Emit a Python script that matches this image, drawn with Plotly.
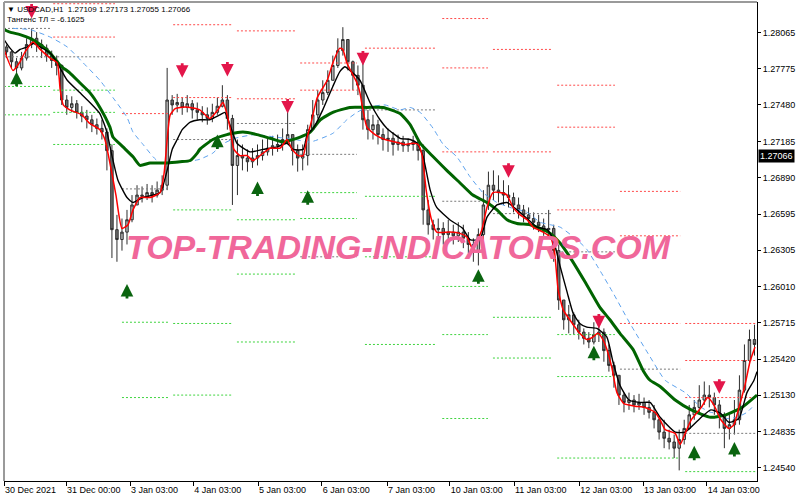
import plotly.graph_objects as go

# ---------------- data (USDCAD H1) ----------------
open_first = 1.2795
closes = [1.2791,1.2783,1.2778,1.2786,1.2797,1.2802,1.2797,1.2794,1.2788,1.2784,
          1.2780,1.2752,1.2746,1.2749,1.2742,1.2739,1.2736,1.2732,1.2729,1.2726,
          1.2711,1.2647,1.2639,1.2645,1.2655,1.2667,1.2675,1.2674,1.2677,1.2675,
          1.2679,1.2683,1.2752,1.2748,1.2750,1.2746,1.2749,1.2744,1.2742,1.2740,
          1.2737,1.2742,1.2747,1.2752,1.2737,1.2699,1.2707,1.2705,1.2702,1.2705,
          1.2707,1.2710,1.2713,1.2715,1.2716,1.2720,1.2724,1.2711,1.2705,1.2707,
          1.2728,1.2740,1.2752,1.2758,1.2768,1.2780,1.2792,1.2801,1.2783,1.2772,
          1.2764,1.2736,1.2728,1.2732,1.2724,1.2720,1.2721,1.2716,1.2718,1.2715,
          1.2716,1.2718,1.2711,1.2663,1.2651,1.2647,1.2648,1.2643,1.2645,1.2642,
          1.2645,1.2640,1.2635,1.2630,1.2643,1.2667,1.2683,1.2679,1.2677,1.2675,
          1.2673,1.2667,1.2663,1.2659,1.2656,1.2653,1.2650,1.2647,1.2648,1.2630,
          1.2590,1.2574,1.2578,1.2570,1.2564,1.2559,1.2556,1.2562,1.2564,1.2549,
          1.2537,1.2529,1.2513,1.2507,1.2509,1.2505,1.2507,1.2503,1.2499,1.2493,
          1.2483,1.2478,1.2475,1.2470,1.2477,1.2486,1.2497,1.2503,1.2509,1.2513,
          1.2511,1.2505,1.2497,1.2486,1.2489,1.2493,1.2517,1.2541,1.2558,1.2554]
highs = [1.2797,1.2792,1.2786,1.2791,1.2802,1.2810,1.2807,1.2801,1.2797,1.2792,
         1.2788,1.2781,1.2756,1.2755,1.2752,1.2747,1.2744,1.2740,1.2737,1.2736,
         1.2729,1.2716,1.2659,1.2656,1.2663,1.2675,1.2683,1.2682,1.2684,1.2683,
         1.2686,1.2691,1.2778,1.2756,1.2757,1.2754,1.2756,1.2752,1.2750,1.2747,
         1.2746,1.2749,1.2754,1.2764,1.2756,1.2740,1.2720,1.2716,1.2712,1.2713,
         1.2716,1.2720,1.2721,1.2723,1.2724,1.2729,1.2744,1.2724,1.2716,1.2716,
         1.2732,1.2752,1.2760,1.2768,1.2776,1.2788,1.2802,1.2811,1.2801,1.2784,
         1.2780,1.2782,1.2744,1.2740,1.2736,1.2729,1.2729,1.2726,1.2724,1.2723,
         1.2721,1.2723,1.2721,1.2716,1.2671,1.2655,1.2656,1.2653,1.2655,1.2651,
         1.2653,1.2651,1.2645,1.2640,1.2648,1.2679,1.2694,1.2695,1.2691,1.2687,
         1.2683,1.2677,1.2673,1.2667,1.2665,1.2661,1.2659,1.2656,1.2663,1.2651,
         1.2635,1.2590,1.2586,1.2580,1.2574,1.2567,1.2564,1.2572,1.2570,1.2567,
         1.2554,1.2540,1.2529,1.2515,1.2515,1.2513,1.2514,1.2511,1.2509,1.2505,
         1.2494,1.2493,1.2485,1.2481,1.2485,1.2493,1.2505,1.2509,1.2521,1.2524,
         1.2521,1.2515,1.2509,1.2499,1.2497,1.2509,1.2529,1.2554,1.2566,1.2570]
lows = [1.2786,1.2778,1.2774,1.2776,1.2784,1.2794,1.2791,1.2786,1.2783,1.2778,
        1.2772,1.2748,1.2740,1.2742,1.2737,1.2734,1.2729,1.2726,1.2724,1.2720,
        1.2695,1.2624,1.2621,1.2630,1.2635,1.2653,1.2667,1.2669,1.2671,1.2669,
        1.2673,1.2675,1.2679,1.2740,1.2742,1.2740,1.2742,1.2737,1.2736,1.2734,
        1.2732,1.2734,1.2740,1.2746,1.2728,1.2667,1.2675,1.2695,1.2694,1.2697,
        1.2699,1.2703,1.2707,1.2707,1.2710,1.2711,1.2716,1.2699,1.2694,1.2695,
        1.2699,1.2728,1.2737,1.2748,1.2756,1.2768,1.2778,1.2788,1.2776,1.2760,
        1.2756,1.2728,1.2720,1.2720,1.2716,1.2711,1.2710,1.2707,1.2711,1.2710,
        1.2710,1.2711,1.2703,1.2651,1.2643,1.2639,1.2639,1.2635,1.2637,1.2635,
        1.2637,1.2632,1.2628,1.2621,1.2618,1.2639,1.2663,1.2671,1.2669,1.2667,
        1.2665,1.2661,1.2656,1.2653,1.2651,1.2647,1.2645,1.2642,1.2640,1.2621,
        1.2582,1.2566,1.2563,1.2562,1.2558,1.2554,1.2551,1.2554,1.2556,1.2540,
        1.2532,1.2519,1.2505,1.2499,1.2501,1.2499,1.2501,1.2497,1.2494,1.2486,
        1.2477,1.2470,1.2469,1.2462,1.2452,1.2473,1.2485,1.2493,1.2499,1.2505,
        1.2503,1.2497,1.2486,1.2470,1.2477,1.2481,1.2489,1.2515,1.2537,1.2545]

# indicator lines (bar index, price)
red_line = [(-0.5,1.2793),(1.3,1.2776),(2.7,1.2783),(3.7,1.2791),(5.3,1.2799),(6.7,1.2793),(8.7,1.2786),
            (10.1,1.2782),(10.7,1.2760),(11.3,1.2748),(12.6,1.2744),(15.0,1.2740),(16.6,1.2733),(18.6,1.2728),
            (19.6,1.2720),(20.6,1.2701),(21.8,1.2675),(23.0,1.2648),(24.2,1.2651),(25.2,1.2663),(26.6,1.2673),
            (28.6,1.2673),(30.6,1.2677),(31.4,1.2693),(32.0,1.2720),(32.6,1.2740),(33.6,1.2745),(34.6,1.2746),
            (36.6,1.2746),(38.5,1.2744),(40.5,1.2737),(42.1,1.2744),(43.1,1.2750),(43.7,1.2744),(44.5,1.2730),
            (45.3,1.2712),(46.5,1.2707),(47.9,1.2707),(49.1,1.2703),(50.5,1.2707),(52.5,1.2713),(54.5,1.2713),
            (55.9,1.2720),(56.9,1.2712),(58.1,1.2707),(59.1,1.2707),(59.9,1.2722),(60.7,1.2734),(61.9,1.2754),
            (63.9,1.2768),(65.0,1.2782),(66.4,1.2794),(67.0,1.2793),(67.8,1.2782),(69.8,1.2766),(70.4,1.2758),
            (71.0,1.2744),(71.8,1.2730),(73.4,1.2724),(75.4,1.2720),(77.4,1.2718),(79.4,1.2716),(81.0,1.2717),
            (82.0,1.2716),(82.8,1.2707),(83.6,1.2679),(84.6,1.2656),(85.7,1.2645),(88.3,1.2645),(90.3,1.2644),
            (91.7,1.2641),(92.9,1.2631),(93.9,1.2639),(94.7,1.2647),(95.7,1.2665),(96.9,1.2677),(98.3,1.2677),
            (99.7,1.2675),(100.9,1.2665),(102.3,1.2659),(103.7,1.2655),(104.9,1.2649),(106.9,1.2645),(108.3,1.2641),
            (109.1,1.2631),(109.9,1.2598),(110.9,1.2582),(112.2,1.2574),(114.2,1.2563),(115.6,1.2558),(116.8,1.2560),
            (117.8,1.2563),(118.8,1.2558),(119.6,1.2550),(120.6,1.2535),(121.6,1.2515),(123.0,1.2506),(125.2,1.2504),
            (127.2,1.2503),(129.2,1.2499),(130.2,1.2493),(131.2,1.2485),(133.2,1.2482),(134.2,1.2473),(135.2,1.2482),
            (136.4,1.2493),(138.4,1.2503),(139.7,1.2511),(140.9,1.2505),(142.3,1.2493),(143.9,1.2486),(144.9,1.2489),
            (145.9,1.2503),(147.1,1.2521),(148.1,1.2540),(149.1,1.2552)]
black_line = [(-0.5,1.2801),(0.7,1.2794),(1.7,1.2790),(2.7,1.2793),(4.1,1.2795),(5.3,1.2798),(6.7,1.2795),
              (8.7,1.2790),(10.1,1.2782),(12.1,1.2768),(14.6,1.2758),(16.6,1.2750),(18.6,1.2741),(20.0,1.2726),
              (21.0,1.2707),(22.2,1.2687),(24.0,1.2673),(25.2,1.2669),(27.2,1.2673),(30.6,1.2677),(32.0,1.2695),
              (33.0,1.2712),(34.0,1.2720),(35.0,1.2728),(36.6,1.2734),(38.5,1.2736),(40.5,1.2736),(42.5,1.2740),
              (43.5,1.2742),(44.5,1.2732),(45.9,1.2717),(48.5,1.2710),(51.1,1.2712),(53.9,1.2714),(55.9,1.2717),
              (57.1,1.2712),(59.1,1.2712),(59.9,1.2724),(61.1,1.2729),(63.0,1.2744),(65.0,1.2763),(66.4,1.2775),
              (67.4,1.2779),(68.4,1.2776),(70.4,1.2768),(72.4,1.2750),(74.4,1.2736),(75.8,1.2729),(78.4,1.2721),
              (80.4,1.2720),(81.8,1.2717),(83.0,1.2706),(84.4,1.2679),(85.7,1.2665),(88.3,1.2655),(90.9,1.2648),
              (92.3,1.2639),(94.3,1.2639),(95.7,1.2657),(97.7,1.2667),(99.7,1.2669),(101.7,1.2663),(103.7,1.2656),
              (105.7,1.2649),(107.7,1.2647),(108.9,1.2639),(110.3,1.2617),(111.7,1.2596),(112.9,1.2579),(114.2,1.2571),
              (115.6,1.2568),(117.6,1.2567),(119.6,1.2560),(120.8,1.2540),(122.2,1.2521),(124.0,1.2509),(126.2,1.2507),
              (128.2,1.2507),(130.2,1.2495),(133.2,1.2483),(135.2,1.2483),(138.4,1.2495),(140.3,1.2501),(142.3,1.2498),
              (143.9,1.2491),(145.9,1.2494),(147.5,1.2515),(148.9,1.2525),(149.5,1.2532)]
green_line = [(-0.5,1.2809),(0.7,1.2807),(2.7,1.2805),(4.7,1.2802),(6.7,1.2797),(8.7,1.2790),(10.7,1.2780),
              (12.6,1.2774),(14.6,1.2766),(16.6,1.2758),(18.6,1.2746),(20.6,1.2730),(21.2,1.2722),(23.2,1.2714),
              (25.2,1.2706),(26.6,1.2699),(28.6,1.2701),(32.0,1.2701),(34.6,1.2702),(36.6,1.2703),(38.0,1.2709),
              (38.5,1.2712),(41.1,1.2720),(43.9,1.2724),(47.1,1.2726),(49.9,1.2724),(52.5,1.2721),(55.1,1.2718),
              (58.5,1.2722),(60.5,1.2726),(62.5,1.2736),(65.0,1.2742),(68.4,1.2746),(71.8,1.2746),(75.0,1.2746),
              (78.4,1.2741),(80.4,1.2732),(82.4,1.2717),(85.0,1.2706),(87.7,1.2695),(90.3,1.2685),(92.9,1.2675),
              (95.7,1.2669),(97.7,1.2663),(99.7,1.2655),(101.7,1.2652),(104.3,1.2651),(106.3,1.2648),(108.3,1.2644),
              (110.3,1.2636),(112.2,1.2625),(115.2,1.2605),(118.2,1.2584),(120.2,1.2574),(122.2,1.2563),(124.8,1.2550),
              (126.8,1.2533),(128.2,1.2525),(130.2,1.2520),(133.2,1.2509),(136.4,1.2501),(140.3,1.2495),(143.3,1.2497),
              (146.5,1.2503),(149.5,1.2513)]
blue_line = [(1.3,1.2810),(4.7,1.2809),(8.7,1.2803),(12.1,1.2795),(15.3,1.2782),(18.6,1.2768),(21.2,1.2754),
             (24.0,1.2738),(25.2,1.2726),(27.2,1.2716),(29.2,1.2706),(30.6,1.2701),(33.2,1.2701),(36.0,1.2702),
             (38.5,1.2704),(41.1,1.2709),(42.9,1.2716),(45.5,1.2721),(49.5,1.2724),(53.5,1.2722),(57.5,1.2720),
             (60.5,1.2718),(65.0,1.2725),(67.8,1.2736),(69.8,1.2742),(71.8,1.2746),(75.4,1.2748),(78.4,1.2744),
             (80.4,1.2746),(82.4,1.2742),(85.0,1.2729),(87.0,1.2716),(89.7,1.2706),(92.3,1.2690),(94.9,1.2677),
             (97.7,1.2669),(100.3,1.2665),(103.7,1.2661),(106.3,1.2653),(108.3,1.2651),(110.3,1.2649),(113.6,1.2639),
             (115.6,1.2631),(118.2,1.2614),(120.8,1.2596),(124.2,1.2571),(128.2,1.2544),(131.2,1.2525),(135.2,1.2515),
             (138.4,1.2503),(140.3,1.2499),(142.3,1.2498),(143.3,1.2494),(145.5,1.2495),(147.5,1.2499),(148.5,1.2503)]

# daily level segments (bar index ranges) and their levels
seg_start = [-0.5, 9.3, 23.0, 33.2, 45.9, 58.5, 71.4, 86.8, 96.9, 109.7, 122.2, 135.2]
seg_end = [8.7, 21.6, 32.2, 44.9, 57.5, 69.8, 85.4, 95.9, 108.5, 121.2, 134.2, 149.5]
red_levels = [[], [1.2830, 1.2803], [1.2741], [1.2813, 1.2754], [1.2808, 1.2753], [1.2782, 1.2760],
              [1.2794], [1.2818, 1.2778, 1.2710], [1.2793, 1.2710], [1.2764, 1.2730, 1.2663],
              [1.2678, 1.2642, 1.2571], [1.2571, 1.2541, 1.2511]]
gray_levels = [[1.2810, 1.2787], [1.2787], [1.2680], [1.2720], [1.2733], [1.2708, 1.2625], [1.2744],
               [1.2670], [1.2660], [1.2629], [1.2534], [1.2482]]
green_levels = [[1.2763, 1.2740], [1.2760, 1.2742, 1.2716], [1.2572, 1.2511], [1.2663, 1.2571, 1.2513],
                [1.2655, 1.2611, 1.2556], [1.2677, 1.2656], [1.2674, 1.2625, 1.2554],
                [1.2601, 1.2562, 1.2494], [1.2576, 1.2543], [1.2562, 1.2528, 1.2462], [1.2462], [1.2451]]

# signal arrows (bar, tip price)
sell_bars = [5, 35, 44, 56, 71, 100, 118, 142]
sell_tips = [1.2818, 1.2770, 1.2771, 1.2741, 1.2780, 1.2689, 1.2567, 1.2514]
buy_bars = [2, 24, 42, 50, 60, 94, 117, 137, 145]
buy_tips = [1.2775, 1.2603, 1.2724, 1.2686, 1.2679, 1.2615, 1.2553, 1.2472, 1.2475]

price_ticks = [1.28065, 1.27775, 1.27480, 1.27185, 1.26890, 1.26595, 1.26305,
               1.26010, 1.25715, 1.25420, 1.25130, 1.24835, 1.24540]
time_tick_bars = [-0.5, 11.85, 24.6, 37.2, 50.1, 62.8, 75.8, 88.3, 101.1, 114.1, 126.8, 139.5]
time_tick_labels = ["30 Dec 2021", "31 Dec 00:00", "3 Jan 03:00", "4 Jan 03:00", "5 Jan 03:00",
                    "6 Jan 03:00", "7 Jan 03:00", "10 Jan 03:00", "11 Jan 03:00", "12 Jan 03:00",
                    "13 Jan 03:00", "14 Jan 03:00"]
current_price = 1.27066
header_line1 = "▼ USDCAD,H1\u00a0 1.27109 1.27173 1.27055 1.27066"
header_line2 = "Тангенс ТЛ = -6.1625"
watermark = "TOP-TRADING-INDICATORS.COM"

# ---------------- figure ----------------
N = len(closes)
bars = list(range(N))
opens = [open_first] + closes[:-1]
FONT = "Liberation Sans, Arial, sans-serif"

fig = go.Figure()


def level_trace(levels, color):
    xs, ys = [], []
    for s, e, lv in zip(seg_start, seg_end, levels):
        for v in lv:
            xs += [s, e, None]
            ys += [v, v, None]
    return go.Scatter(x=xs, y=ys, mode="lines", hoverinfo="skip", showlegend=False,
                      line=dict(color=color, width=1, dash="2px,2px"))


fig.add_trace(level_trace(gray_levels, "#7a7a7a"))
fig.add_trace(level_trace(red_levels, "#ff4a4a"))
fig.add_trace(level_trace(green_levels, "#3fd43f"))

fig.add_trace(go.Candlestick(
    x=bars, open=opens, high=highs, low=lows, close=closes,
    increasing=dict(line=dict(color="#2e2e2e", width=1), fillcolor="#b8b8b8"),
    decreasing=dict(line=dict(color="#2e2e2e", width=1), fillcolor="#6e6e6e"),
    whiskerwidth=0, hoverinfo="skip", showlegend=False))


def line_trace(pts, color, width, dash="solid"):
    return go.Scatter(x=[p[0] for p in pts], y=[p[1] for p in pts], mode="lines",
                      line=dict(color=color, width=width, dash=dash, shape="spline", smoothing=0.5),
                      hoverinfo="skip", showlegend=False)


fig.add_trace(line_trace(blue_line, "#5da2ee", 1, "5px,4px"))
fig.add_trace(line_trace(green_line, "#006400", 3))
fig.add_trace(line_trace(black_line, "#000000", 1.4))
fig.add_trace(line_trace(red_line, "#ff0000", 1.5))

for b, p in zip(sell_bars, sell_tips):
    fig.add_annotation(x=b, y=p, xref="x", yref="y", text="", showarrow=True, ax=0, ay=-16,
                       arrowhead=2, arrowsize=0.9, arrowwidth=2.8, arrowcolor="#e3164a")
for b, p in zip(buy_bars, buy_tips):
    fig.add_annotation(x=b, y=p, xref="x", yref="y", text="", showarrow=True, ax=0, ay=16,
                       arrowhead=2, arrowsize=0.9, arrowwidth=2.8, arrowcolor="#0a640f")

fig.add_annotation(x=0.524, y=0.488, xref="paper", yref="paper", text=watermark, showarrow=False,
                   font=dict(family=FONT, size=34, color="#f0679a", weight="bold", style="italic"))

fig.add_annotation(x=0.0015, y=0.985, xref="paper", yref="paper", text=header_line1, showarrow=False,
                   xanchor="left", yanchor="middle", font=dict(family=FONT, size=8, color="#000000"))
fig.add_annotation(x=0.0015, y=0.964, xref="paper", yref="paper", text=header_line2, showarrow=False,
                   xanchor="left", yanchor="middle", font=dict(family=FONT, size=8, color="#000000"))

fig.add_annotation(x=1, y=current_price, xref="paper", yref="y", text=f"{current_price:.5f}",
                   showarrow=False, xanchor="left", yanchor="middle", xshift=1,
                   bgcolor="#000000", borderpad=1,
                   font=dict(family=FONT, size=9, color="#ffffff"))

# frame lines (top and left, gray like the terminal)
fig.add_shape(type="line", xref="paper", yref="paper", x0=0, x1=1, y0=1, y1=1,
              line=dict(color="#9a9a9a", width=2))
fig.add_shape(type="line", xref="paper", yref="paper", x0=0, x1=0, y0=0, y1=1,
              line=dict(color="#9a9a9a", width=2))

fig.update_layout(
    width=800, height=500,
    margin=dict(l=4, r=43, t=2, b=19, autoexpand=False),
    paper_bgcolor="#ffffff", plot_bgcolor="#ffffff",
    showlegend=False,
    xaxis=dict(range=[-0.5, N - 0.5], showgrid=False, zeroline=False, rangeslider=dict(visible=False),
               automargin=False, tickangle=0,
               tickmode="array", tickvals=time_tick_bars, ticktext=time_tick_labels,
               ticks="outside", ticklen=4, tickcolor="#000000", ticklabelposition="outside right",
               showline=True, linecolor="#000000", linewidth=1,
               tickfont=dict(family=FONT, size=9, color="#000000")),
    yaxis=dict(range=[1.24434, 1.28314], side="right", showgrid=False, zeroline=False,
               automargin=False,
               tickmode="array", tickvals=price_ticks, ticktext=[f"{v:.5f}" for v in price_ticks],
               ticks="outside", ticklen=3, tickcolor="#000000",
               showline=True, linecolor="#000000", linewidth=1,
               tickfont=dict(family=FONT, size=9, color="#000000")),
)

fig.write_html("out.html", config={"displayModeBar": False},
               post_script="document.body.style.margin='0px';document.body.style.overflow='hidden';")
